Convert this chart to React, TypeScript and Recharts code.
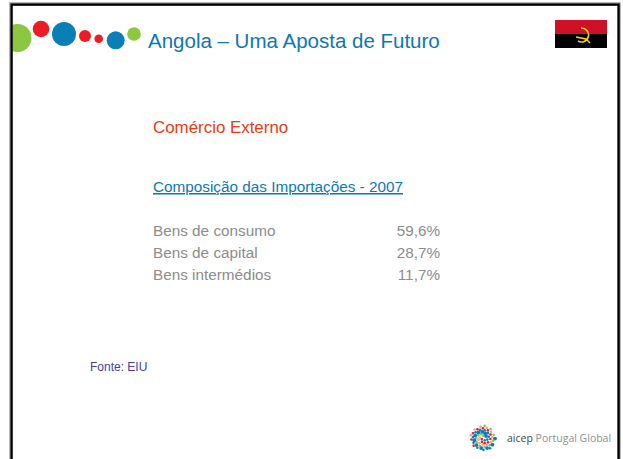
import React from 'react';
import { BarChart, Bar, XAxis, YAxis } from 'recharts';

const categories = ['Bens de consumo', 'Bens de capital', 'Bens intermédios'];
const shares = [59.6, 28.7, 11.7];

const data = categories.map((category, i) => ({ category, share: shares[i] }));

const FONT = '"Liberation Sans", Arial, sans-serif';
const BLUE = '#0b78b4';
const GREY = '#8c8c8c';

const formatShare = (v: number) => `${v.toFixed(1).replace('.', ',')}%`;

// recharts wraps tick text to the axis width, so draw the row labels on one line
const RowTick = ({ x, y, textAnchor, payload, format }: any) => (
  <text
    x={x}
    y={y}
    dy={5}
    textAnchor={textAnchor}
    fill={GREY}
    fontSize={15.3}
    fontFamily={FONT}
  >
    {format ? format(payload.value) : payload.value}
  </text>
);

// slide header bubbles
const bubbles = [
  { cx: 17.5, cy: 38, r: 14, fill: '#8dc63f' },
  { cx: 41, cy: 29, r: 8.3, fill: '#ed1c24' },
  { cx: 64, cy: 34, r: 12, fill: '#0a7fb5' },
  { cx: 85, cy: 36, r: 6, fill: '#ed1c24' },
  { cx: 98.7, cy: 38.7, r: 4.3, fill: '#ed1c24' },
  { cx: 115.7, cy: 40.3, r: 9, fill: '#0a7fb5' },
  { cx: 134, cy: 34, r: 6.8, fill: '#8dc63f' },
];

const logoColours = ['#0a7fb5', '#ed1c24', '#8dc63f', '#0a7fb5', '#f0a0a0'];

const Logo = () => {
  const dots = [];
  for (let i = 1; i < 60; i++) {
    const rad = 12.6 * Math.sqrt(i / 60);
    const a = i * 2.39996;
    dots.push(
      <circle
        key={i}
        cx={483 + rad * Math.cos(a)}
        cy={438 + rad * Math.sin(a)}
        r={i % 5 === 0 ? 1.9 : 1.3}
        fill={logoColours[i % logoColours.length]}
      />
    );
  }
  return <g>{dots}</g>;
};

const Slide = () => (
  <svg width={623} height={459} style={{ position: 'absolute', left: 0, top: 0 }}>
    <rect x={0} y={0} width={623} height={459} fill="#ffffff" />
    <defs>
      <clipPath id="page">
        <rect x={12} y={6} width={606} height={453} />
      </clipPath>
    </defs>
    {bubbles.map((b, i) => (
      <circle key={i} {...b} clipPath="url(#page)" />
    ))}
    {/* slide border, grey halo under the black line */}
    <path d="M11 459 V4 H619 V459" fill="none" stroke="#9a9a9a" strokeWidth={3.4} />
    <path d="M11.6 459 V4.6 H618.6 V459" fill="none" stroke="#000" strokeWidth={2.2} />

    <rect x={555} y={20} width={52} height={14} fill="#ce1126" />
    <rect x={555} y={34} width={52} height={14} fill="#000" />
    <path d="M581 28 a7 7 0 1 1 -3 13" fill="none" stroke="#f9d616" strokeWidth={1.6} />
    <path d="M576 37 l10 2 l4 4" fill="none" stroke="#f9d616" strokeWidth={1.4} />

    <text x={148} y={48} fontFamily={FONT} fontSize={20.5} fill={BLUE}>
      Angola – Uma Aposta de Futuro
    </text>
    <text x={153} y={133} fontFamily={FONT} fontSize={16.9} fill="#f0380f">
      Comércio Externo
    </text>
    <text x={153} y={192} fontFamily={FONT} fontSize={15.3} fill={BLUE} textDecoration="underline">
      Composição das Importações - 2007
    </text>
    <text x={90} y={371} fontFamily={FONT} fontSize={12} fill="#3f3f9a">
      Fonte: EIU
    </text>

    <Logo />
    <text x={507} y={442} fontFamily='"Open Sans", sans-serif' fontSize={10.5} fill="#8f8f8f">
      <tspan fill="#444">aicep</tspan> Portugal Global
    </text>
  </svg>
);

export default function App() {
  return (
    <div style={{ position: 'absolute', left: 0, top: 0, width: 623, height: 459, overflow: 'hidden' }}>
      <Slide />
      <div style={{ position: 'absolute', left: 0, top: 0 }}>
        <BarChart
          width={623}
          height={459}
          data={data}
          layout="vertical"
          margin={{ top: 220, right: 177, bottom: 173, left: 147 }}
        >
          <XAxis type="number" domain={[0, 100]} hide />
          <YAxis
            yAxisId="names"
            type="category"
            dataKey="category"
            width={1}
            mirror
            interval={0}
            axisLine={false}
            tickLine={false}
            tickMargin={0}
            tick={<RowTick />}
          />
          <YAxis
            yAxisId="values"
            type="category"
            orientation="right"
            dataKey="share"
            width={1}
            mirror
            interval={0}
            axisLine={false}
            tickLine={false}
            tickMargin={0}
            tick={<RowTick format={formatShare} />}
          />
          <Bar yAxisId="names" dataKey="share" fill="none" isAnimationActive={false} />
          <Bar yAxisId="values" dataKey="share" fill="none" isAnimationActive={false} />
        </BarChart>
      </div>
    </div>
  );
}
